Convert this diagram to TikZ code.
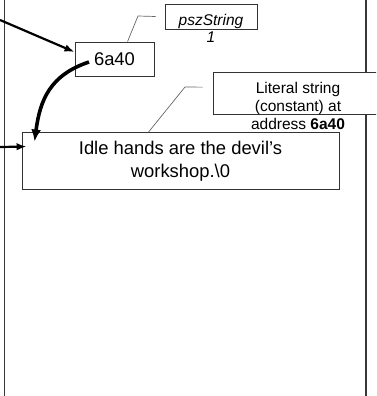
\documentclass[tikz,border=0pt]{standalone}
\usepackage{fontspec}
\setmainfont{Liberation Sans}
\usetikzlibrary{arrows.meta,calc}

\begin{document}
\begin{tikzpicture}[x=1pt,y=-1pt,
  frame/.style={draw=black!80, line width=0.9pt, fill=white, inner sep=0pt},
  rail/.style={draw=black!78, line width=1.9pt},
  leader/.style={draw=black!60, line width=0.7pt},
  ptrarrow/.style={draw=black, line width=2.2pt, -{Latex[length=10pt,width=7.5pt]}},
  heavyarrow/.style={draw=black, line width=3.6pt, -{Latex[length=12pt,width=10pt]}},
  bigtext/.style={font=\fontsize{18.4}{23}\selectfont},
  notetext/.style={font=\fontsize{15.5}{18}\selectfont, inner sep=0pt},
]
\useasboundingbox (0,0) rectangle (376,396);
\begin{scope}
\clip (0,0) rectangle (376,396);

% memory region borders
\draw[rail] (4.5,0) -- (4.5,396);
\draw[rail] (365.7,0) -- (365.7,396);

% pointer variable holding the address
\node[frame, minimum width=79pt, minimum height=34pt, bigtext] (ptr) at (114.5,59) {6a40};

% the string literal in memory
\node[frame, minimum width=317pt, minimum height=56.5pt, bigtext, align=center]
  (str) at (180.5,160.75) {Idle hands are the devil’s\\workshop.\textbackslash 0};

% name tag of the pointer
\node[frame, minimum width=92pt, minimum height=25pt] (pszbox) at (211,16.5) {};
\node[notetext, anchor=base, font=\fontsize{15.5}{18}\selectfont\itshape] (pszname) at (211,26) {pszString};
\node[notetext, anchor=base, font=\fontsize{15.5}{18}\selectfont\itshape] (pszidx) at (211,43) {1};

% note on the literal
\node[frame, minimum width=170pt, minimum height=41.7pt] (note) at (298,93.15) {};
\node[notetext, anchor=base] (noteA) at (298,93) {Literal string};
\node[notetext, anchor=base] (noteB) at (298,111) {(constant) at};
\node[notetext, anchor=base] (noteC) at (298,129.5) {address \textbf{6a40}};

% leader lines of the notes
\coordinate (pszfoot) at ($(ptr.north west)+(53,0)$);
\coordinate (pszknee) at (138,16);
\coordinate (pszend) at ($(pszbox.west)+(-9,0)$);
\draw[leader] (pszfoot) -- (pszknee) -- (pszend);

\coordinate (notefoot) at ($(str.north west)+(127,0)$);
\coordinate (noteknee) at (185,87);
\coordinate (noteend) at ($(note.west)+(-10,-6)$);
\draw[leader] (notefoot) -- (noteknee) -- (noteend);

% arrows
\coordinate (srcA) at (0,20);
\coordinate (ptrin) at ($(ptr.west)+(0,-7)$);
\draw[ptrarrow] (srcA) -- (ptrin);

\coordinate (srcB) at (0,147);
\coordinate (strin) at ($(str.north west)+(5,14.5)$);
\draw[ptrarrow] (srcB) -- (strin);

\coordinate (ptrout) at ($(ptr.center)+(-25.5,3)$);
\coordinate (strtop) at ($(str.north west)+(13,9.5)$);
\draw[heavyarrow] (ptrout) .. controls (50,75) and (40,100) .. (strtop);
\end{scope}
\end{tikzpicture}
\end{document}
